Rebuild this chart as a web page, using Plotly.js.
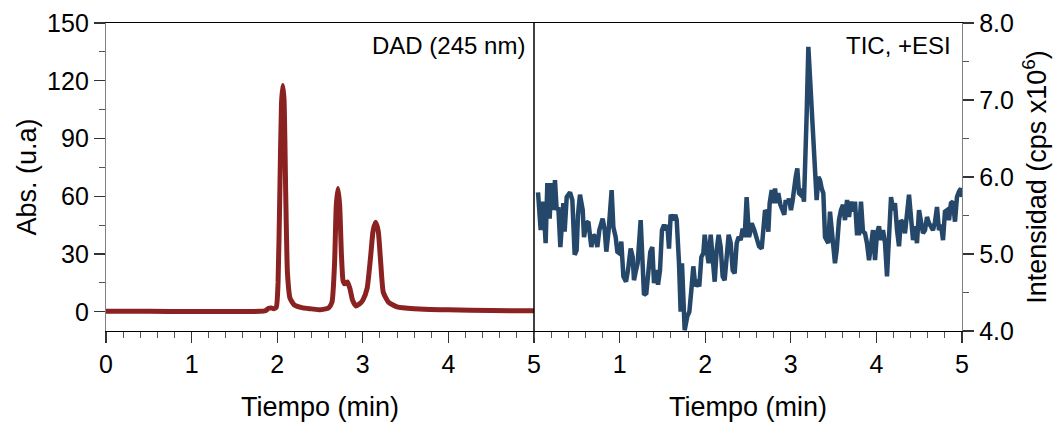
<!DOCTYPE html>
<html>
<head>
<meta charset="utf-8">
<script src="https://cdn.plot.ly/plotly-3.0.1.min.js"></script>
<style>html,body{margin:0;padding:0;background:#fff;}#chart{width:1057px;height:422px;}</style>
</head>
<body>
<div id="chart"></div>
<script>
// DAD chromatogram (245 nm)
const dadTime = [0, 0.5, 1.0, 1.5, 1.8, 1.86, 1.9, 1.93, 1.96, 1.99, 2.01, 2.03, 2.05, 2.065, 2.08, 2.10, 2.12, 2.15, 2.2, 2.3, 2.4, 2.5, 2.6, 2.64, 2.67, 2.69, 2.71, 2.73, 2.75, 2.77, 2.79, 2.82, 2.85, 2.88, 2.92, 2.96, 3.0, 3.05, 3.09, 3.12, 3.15, 3.18, 3.21, 3.24, 3.3, 3.4, 3.6, 3.8, 4.0, 4.5, 5.0];
const dadAbs = [0.3, 0.2, 0.1, 0.1, 0.2, 0.5, 1.8, 2.0, 1.5, 2.5, 15, 60, 108, 117.5, 110, 60, 20, 7, 3.5, 2, 1.5, 1, 2, 5, 25, 55, 64, 55, 30, 16, 14.5, 15.5, 12, 6, 3, 4, 6, 12, 28, 42, 46.5, 42, 25, 10, 5, 2.5, 1.5, 1.2, 1, 0.6, 0.5];

// TIC (+ESI) chromatogram, cps x10^6
const ticTime = [0.047, 0.078, 0.109, 0.136, 0.156, 0.183, 0.202, 0.226, 0.245, 0.265, 0.284, 0.308, 0.343, 0.358, 0.382, 0.421, 0.448, 0.475, 0.498, 0.514, 0.537, 0.569, 0.584, 0.611, 0.635, 0.650, 0.670, 0.693, 0.717, 0.740, 0.763, 0.802, 0.826, 0.845, 0.872, 0.907, 0.927, 0.954, 0.974, 0.997, 1.020, 1.044, 1.075, 1.098, 1.129, 1.153, 1.168, 1.192, 1.211, 1.246, 1.266, 1.285, 1.312, 1.332, 1.359, 1.382, 1.402, 1.425, 1.449, 1.472, 1.495, 1.519, 1.542, 1.558, 1.577, 1.597, 1.628, 1.651, 1.667, 1.694, 1.713, 1.729, 1.748, 1.760, 1.791, 1.815, 1.838, 1.861, 1.885, 1.908, 1.931, 1.955, 1.978, 1.994, 2.017, 2.040, 2.064, 2.087, 2.111, 2.134, 2.157, 2.181, 2.204, 2.227, 2.251, 2.274, 2.298, 2.321, 2.344, 2.368, 2.391, 2.414, 2.438, 2.461, 2.484, 2.512, 2.523, 2.543, 2.574, 2.601, 2.629, 2.660, 2.679, 2.699, 2.718, 2.738, 2.753, 2.777, 2.796, 2.816, 2.835, 2.854, 2.878, 2.901, 2.924, 2.940, 2.963, 2.979, 3.002, 3.022, 3.041, 3.057, 3.076, 3.096, 3.115, 3.135, 3.154, 3.170, 3.185, 3.205, 3.224, 3.244, 3.263, 3.283, 3.302, 3.322, 3.341, 3.361, 3.380, 3.400, 3.419, 3.438, 3.458, 3.477, 3.497, 3.516, 3.536, 3.563, 3.586, 3.610, 3.633, 3.657, 3.680, 3.703, 3.727, 3.750, 3.773, 3.797, 3.820, 3.843, 3.867, 3.890, 3.914, 3.937, 3.960, 3.984, 4.007, 4.030, 4.054, 4.077, 4.101, 4.124, 4.147, 4.171, 4.194, 4.217, 4.241, 4.264, 4.287, 4.311, 4.334, 4.358, 4.381, 4.404, 4.428, 4.451, 4.474, 4.498, 4.521, 4.544, 4.568, 4.591, 4.614, 4.638, 4.661, 4.685, 4.708, 4.731, 4.755, 4.778, 4.801, 4.825, 4.848, 4.871, 4.895, 4.918, 4.941, 4.965, 4.988, 5.0];
const ticInt = [5.80, 5.31, 5.68, 5.14, 5.92, 5.46, 5.92, 5.57, 5.96, 5.57, 5.61, 5.09, 5.66, 5.29, 5.74, 5.80, 5.70, 4.99, 5.05, 5.51, 5.77, 5.57, 5.22, 5.40, 5.42, 5.27, 5.09, 5.25, 5.22, 5.09, 5.31, 5.46, 5.31, 5.03, 5.31, 5.83, 5.35, 5.22, 5.03, 5.01, 5.16, 4.71, 4.64, 4.79, 5.07, 4.96, 4.66, 4.79, 4.88, 5.44, 5.01, 4.47, 4.49, 4.75, 5.03, 5.09, 4.62, 4.79, 4.60, 4.79, 5.31, 5.38, 5.31, 5.38, 5.07, 5.51, 5.44, 5.51, 5.44, 4.88, 4.25, 4.88, 4.19, 4.01, 4.19, 4.25, 4.53, 4.84, 4.58, 4.62, 4.58, 4.96, 5.01, 5.25, 5.05, 4.88, 5.25, 4.92, 4.64, 5.05, 5.25, 5.09, 4.71, 4.66, 5.05, 5.25, 5.14, 4.79, 4.75, 5.14, 5.22, 5.18, 5.33, 5.22, 5.74, 5.22, 5.27, 5.40, 5.31, 5.22, 5.10, 5.07, 5.36, 5.57, 5.53, 5.29, 5.66, 5.83, 5.66, 5.85, 5.66, 5.79, 5.64, 5.57, 5.51, 5.70, 5.66, 5.72, 5.57, 5.70, 5.96, 6.00, 6.11, 5.79, 5.77, 5.85, 5.68, 6.65, 6.80, 7.69, 7.30, 7.00, 6.48, 6.00, 5.70, 6.00, 5.96, 5.85, 5.79, 5.22, 5.18, 5.14, 5.55, 5.27, 5.01, 4.88, 5.05, 5.44, 5.57, 5.64, 5.44, 5.70, 5.48, 5.68, 5.55, 5.68, 5.27, 5.27, 5.68, 5.29, 5.27, 5.14, 4.92, 5.12, 5.31, 4.92, 5.27, 5.36, 5.18, 5.31, 5.14, 4.71, 5.14, 5.74, 5.57, 5.66, 5.31, 5.10, 5.44, 5.40, 5.27, 5.48, 5.77, 5.48, 5.18, 5.36, 5.14, 5.57, 5.40, 5.27, 5.31, 5.48, 5.40, 5.36, 5.31, 5.42, 5.61, 5.31, 5.38, 5.18, 5.55, 5.57, 5.44, 5.66, 5.68, 5.42, 5.74, 5.81, 5.85, 5.74];

const xTickValsLeft = [0, 1, 2, 3, 4, 5];
const xTickValsRight = [1, 2, 3, 4, 5];
const yTickValsLeft = [0, 30, 60, 90, 120, 150];
const yTickValsRight = [4, 5, 6, 7, 8];

const FONT = 'Liberation Sans, Arial, sans-serif';
const tickFont = {family: FONT, size: 25, color: '#000'};
const titleFont = {family: FONT, size: 27, color: '#000'};
const annFont = {family: FONT, size: 24, color: '#000'};

const traces = [
  {x: dadTime, y: dadAbs, xaxis: 'x', yaxis: 'y', type: 'scatter', mode: 'lines',
   line: {color: '#8b2222', width: 5, shape: 'spline', smoothing: 0.5}, hoverinfo: 'skip'},
  {x: ticTime, y: ticInt, xaxis: 'x2', yaxis: 'y2', type: 'scatter', mode: 'lines',
   line: {color: '#254769', width: 4.5}, hoverinfo: 'skip'}
];

const xCommon = {
  range: [0, 5], showgrid: false, zeroline: false, showline: true, linecolor: '#000', linewidth: 1.2,
  mirror: true, ticks: 'outside', ticklen: 11, tickwidth: 1.2, tickcolor: '#333',
  tickfont: tickFont,
  minor: {dtick: 0.2, tick0: 0, ticks: 'outside', ticklen: 6, tickwidth: 1, tickcolor: '#555', showgrid: false},
  title: {text: 'Tiempo (min)', font: titleFont, standoff: 20}
};

const layout = {
  width: 1057, height: 422,
  margin: {l: 106, r: 95, t: 23, b: 91},
  paper_bgcolor: '#fff', plot_bgcolor: '#fff',
  showlegend: false,
  xaxis: Object.assign({}, xCommon, {domain: [0, 0.5], anchor: 'y', tickvals: xTickValsLeft}),
  xaxis2: Object.assign({}, xCommon, {domain: [0.5, 1], anchor: 'y2', tickvals: xTickValsRight}),
  yaxis: {
    range: [-10, 150], tickvals: yTickValsLeft, showgrid: false, zeroline: false,
    showline: true, linecolor: '#808080', linewidth: 1.2, ticks: 'outside', ticklen: 11, tickwidth: 1.2, tickcolor: '#333',
    minor: {dtick: 15, tick0: 0, ticks: 'outside', ticklen: 6, tickwidth: 1, tickcolor: '#555', showgrid: false},
    tickfont: tickFont, anchor: 'x',
    title: {text: 'Abs. (u.a)', font: titleFont, standoff: 2}
  },
  yaxis2: {
    range: [4, 8], tickvals: yTickValsRight, tickformat: '.1f', showgrid: false, zeroline: false,
    showline: true, linecolor: '#808080', linewidth: 1.2, ticks: 'outside', ticklen: 11, tickwidth: 1.2, tickcolor: '#333',
    minor: {dtick: 0.5, tick0: 4, ticks: 'outside', ticklen: 6, tickwidth: 1, tickcolor: '#555', showgrid: false},
    tickfont: tickFont, anchor: 'x2', side: 'right',
    title: {text: 'Intensidad (cps x10<sup>6</sup>)', font: titleFont, standoff: 14}
  },
  shapes: [
    {type: 'line', xref: 'paper', yref: 'paper', x0: 0.5, x1: 0.5, y0: 0, y1: 1, line: {color: '#000', width: 1.5}}
  ],
  annotations: [
    {text: 'DAD (245 nm)', xref: 'x', yref: 'y', x: 4.92, y: 138.5, xanchor: 'right', yanchor: 'middle', showarrow: false, font: annFont},
    {text: 'TIC, +ESI', xref: 'x2', yref: 'y2', x: 4.9, y: 7.71, xanchor: 'right', yanchor: 'middle', showarrow: false, font: annFont}
  ]
};

Plotly.newPlot('chart', traces, layout, {staticPlot: true, displayModeBar: false});
</script>
</body>
</html>
